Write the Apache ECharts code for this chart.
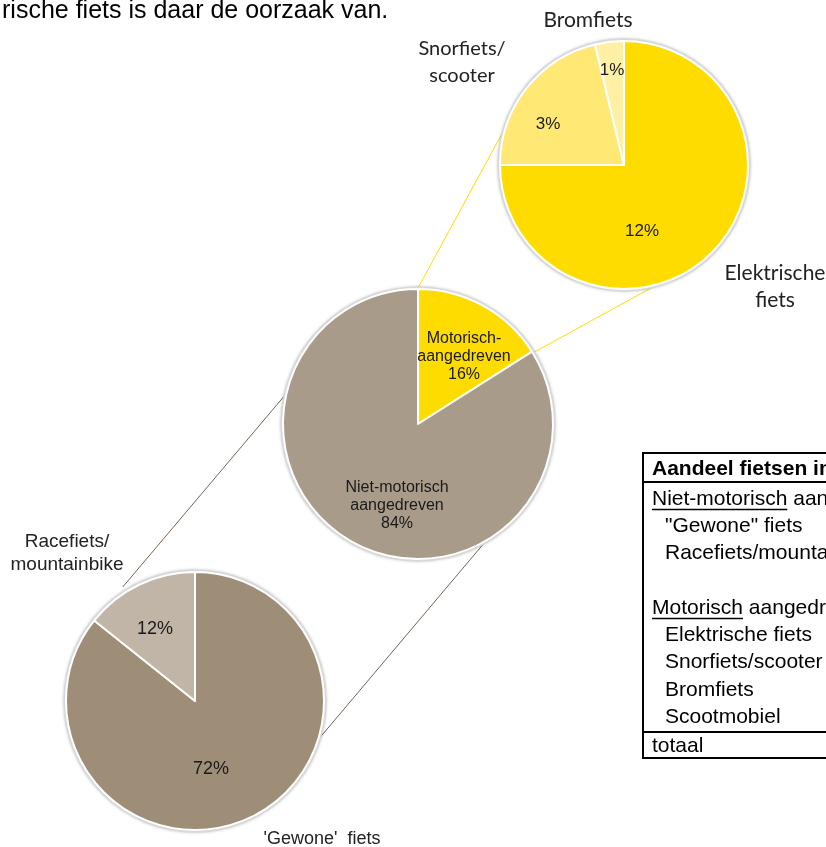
<!DOCTYPE html>
<html><head><meta charset="utf-8">
<script src="https://cdn.jsdelivr.net/npm/echarts@6/dist/echarts.min.js"></script>
<style>html,body{margin:0;padding:0;background:#fff;overflow:hidden}#c{width:826px;height:847px}</style>
</head><body><div id="c"></div>
<script>
// ---------- DATA ----------
const introText = 'rische fiets is daar de oorzaak van.';
const mainCategories = ['Motorisch-\naangedreven', 'Niet-motorisch\naangedreven'];
const mainValues = [16, 84];
const motorCategories = ['Elektrische\nfiets', 'Snorfiets/\nscooter', 'Bromfiets'];
const motorValues = [12, 3.4, 0.6];
const manualCategories = ["'Gewone'  fiets", 'Racefiets/\nmountainbike'];
const manualValues = [72, 12];
const tableTitle = 'Aandeel fietsen in';
const tableRows = ['Niet-motorisch aangedreven', '"Gewone" fiets', 'Racefiets/mountainbike', '',
  'Motorisch aangedreven', 'Elektrische fiets', 'Snorfiets/scooter', 'Bromfiets', 'Scootmobiel'];
const tableTotal = 'totaal';

// ---------- LAYOUT / STYLE ----------
const ARIAL = '"Liberation Sans", Arial, sans-serif';
const CALIBRI = 'Lato, "Open Sans", sans-serif';
const pies = {
  motor:  {c: [624, 165], r: 124},
  main:   {c: [418, 424], r: 135},
  manual: {c: [195, 701], r: 129}
};
const colors = {
  motor: ['#FFDC00', '#FFE873', '#FFF0A3'],
  main: ['#FFDC00', '#A89B8A'],
  manual: ['#9E8E78', '#C1B5A7']
};
const pctLabelPos = {
  motor: [[642, 231], [548, 124], [612, 70]],
  main: [[464, 357], [397, 506]],
  manual: [[211, 769], [155, 629]]
};
const nameLabelPos = {
  motor: [[775, 287], [462, 62], [588, 20]],
  manual: [[322, 839], [67, 553]]
};
// connector lines: [fromPie, angleDeg, radiusOffset, toPie, angleDeg, radiusOffset, color]
const connectors = [
  ['motor', 286.3, 1, 'main', 0, 1, '#FFDC00'],
  ['motor', 159.3, -2, 'main', 58.2, -2, '#FFDC00'],
  ['main', 282.3, 1, 'manual', 327.7, 6, '#746453'],
  ['main', 151.8, 2, 'manual', 106.5, 1, '#746453']
];

function polar(p, ang, off) {
  const a = ang * Math.PI / 180, R = pies[p].r + off;
  return [pies[p].c[0] + R * Math.sin(a), pies[p].c[1] - R * Math.cos(a)];
}

const chart = echarts.init(document.getElementById('c'), null, {renderer: 'canvas'});

function pieSeries(key, names, values, fontSize, fontFamily, fmt) {
  return {
    type: 'pie', center: pies[key].c, radius: pies[key].r, startAngle: 90, clockwise: true,
    animation: false, silent: true, z: 3,
    data: names.map((n, i) => ({name: n, value: values[i], itemStyle: {color: colors[key][i]}})),
    itemStyle: {borderColor: '#fff', borderWidth: 2},
    label: {show: true, position: 'inside', formatter: fmt, fontSize: fontSize, fontFamily: fontFamily,
      color: '#1a1a1a', lineHeight: Math.round(fontSize * 1.15)},
    labelLine: {show: false},
    labelLayout: p => ({x: pctLabelPos[key][p.dataIndex][0], y: pctLabelPos[key][p.dataIndex][1],
      align: 'center', verticalAlign: 'middle'})
  };
}

const graphics = [];
// halos
Object.keys(pies).forEach(k => {
  graphics.push({type: 'circle', z: 1, shape: {cx: pies[k].c[0], cy: pies[k].c[1], r: pies[k].r + 2.5},
    style: {fill: '#d8d8d8', shadowBlur: 3, shadowColor: 'rgba(0,0,0,0.25)'}, silent: true});
});
// connectors
connectors.forEach(cn => {
  const a = polar(cn[0], cn[1], cn[2]), b = polar(cn[3], cn[4], cn[5]);
  graphics.push({type: 'line', z: 0, shape: {x1: a[0], y1: a[1], x2: b[0], y2: b[1]},
    style: {stroke: cn[6], lineWidth: 1}, silent: true});
});
// intro text
graphics.push({type: 'text', z: 5, x: 2, y: 11, style: {text: introText, font: '25px ' + ARIAL,
  fill: '#000', verticalAlign: 'middle'}});
// outer name labels
motorCategories.forEach((n, i) => {
  graphics.push({type: 'text', z: 5, x: nameLabelPos.motor[i][0], y: nameLabelPos.motor[i][1],
    style: {text: n, font: (i === 1 ? '20px ' : '21px ') + CALIBRI, fill: '#222', align: 'center',
      verticalAlign: 'middle', lineHeight: 27}});
});
manualCategories.forEach((n, i) => {
  graphics.push({type: 'text', z: 5, x: nameLabelPos.manual[i][0], y: nameLabelPos.manual[i][1],
    style: {text: n, font: (i === 1 ? '19px ' : '18px ') + ARIAL, fill: '#222', align: 'center', verticalAlign: 'middle',
      lineHeight: 23}});
});
// table
const TX = 643, TY = 453, TB = 758;
graphics.push({type: 'rect', z: 5, shape: {x: TX, y: TY, width: 400, height: TB - TY},
  style: {fill: 'none', stroke: '#000', lineWidth: 2}});
graphics.push({type: 'line', z: 5, shape: {x1: TX, y1: 482, x2: 900, y2: 482}, style: {stroke: '#000', lineWidth: 2}});
graphics.push({type: 'line', z: 5, shape: {x1: TX, y1: 732, x2: 900, y2: 732}, style: {stroke: '#000', lineWidth: 2}});
const tFont = '21px ' + ARIAL;
graphics.push({type: 'text', z: 6, x: 652, y: 469, style: {text: tableTitle, font: 'bold ' + tFont, fill: '#000', verticalAlign: 'middle'}});
const ctx = document.createElement('canvas').getContext('2d');
ctx.font = tFont;
const rowY = [499, 526, 553, 580, 608, 635, 662, 690, 717];
tableRows.forEach((t, i) => {
  if (!t) return;
  const header = (i === 0 || i === 4);
  const x = header ? 652 : 665;
  graphics.push({type: 'text', z: 6, x: x, y: rowY[i], style: {text: t, font: tFont, fill: '#000', verticalAlign: 'middle'}});
  if (header) {
    const w = ctx.measureText(t.split(' ')[0]).width;
    graphics.push({type: 'line', z: 6, shape: {x1: x, y1: rowY[i] + 10.5, x2: x + w, y2: rowY[i] + 10.5},
      style: {stroke: '#000', lineWidth: 1.3}});
  }
});
graphics.push({type: 'text', z: 6, x: 652, y: 746, style: {text: tableTotal, font: tFont, fill: '#000', verticalAlign: 'middle'}});

chart.setOption({
  animation: false,
  backgroundColor: '#fff',
  graphic: graphics,
  series: [
    pieSeries('motor', motorCategories, motorValues, 17, ARIAL, p => Math.round(p.value) + '%'),
    pieSeries('main', mainCategories, mainValues, 16, ARIAL, p => p.name + '\n' + p.value + '%'),
    pieSeries('manual', manualCategories, manualValues, 18, ARIAL, p => p.value + '%')
  ]
});
</script></body></html>
